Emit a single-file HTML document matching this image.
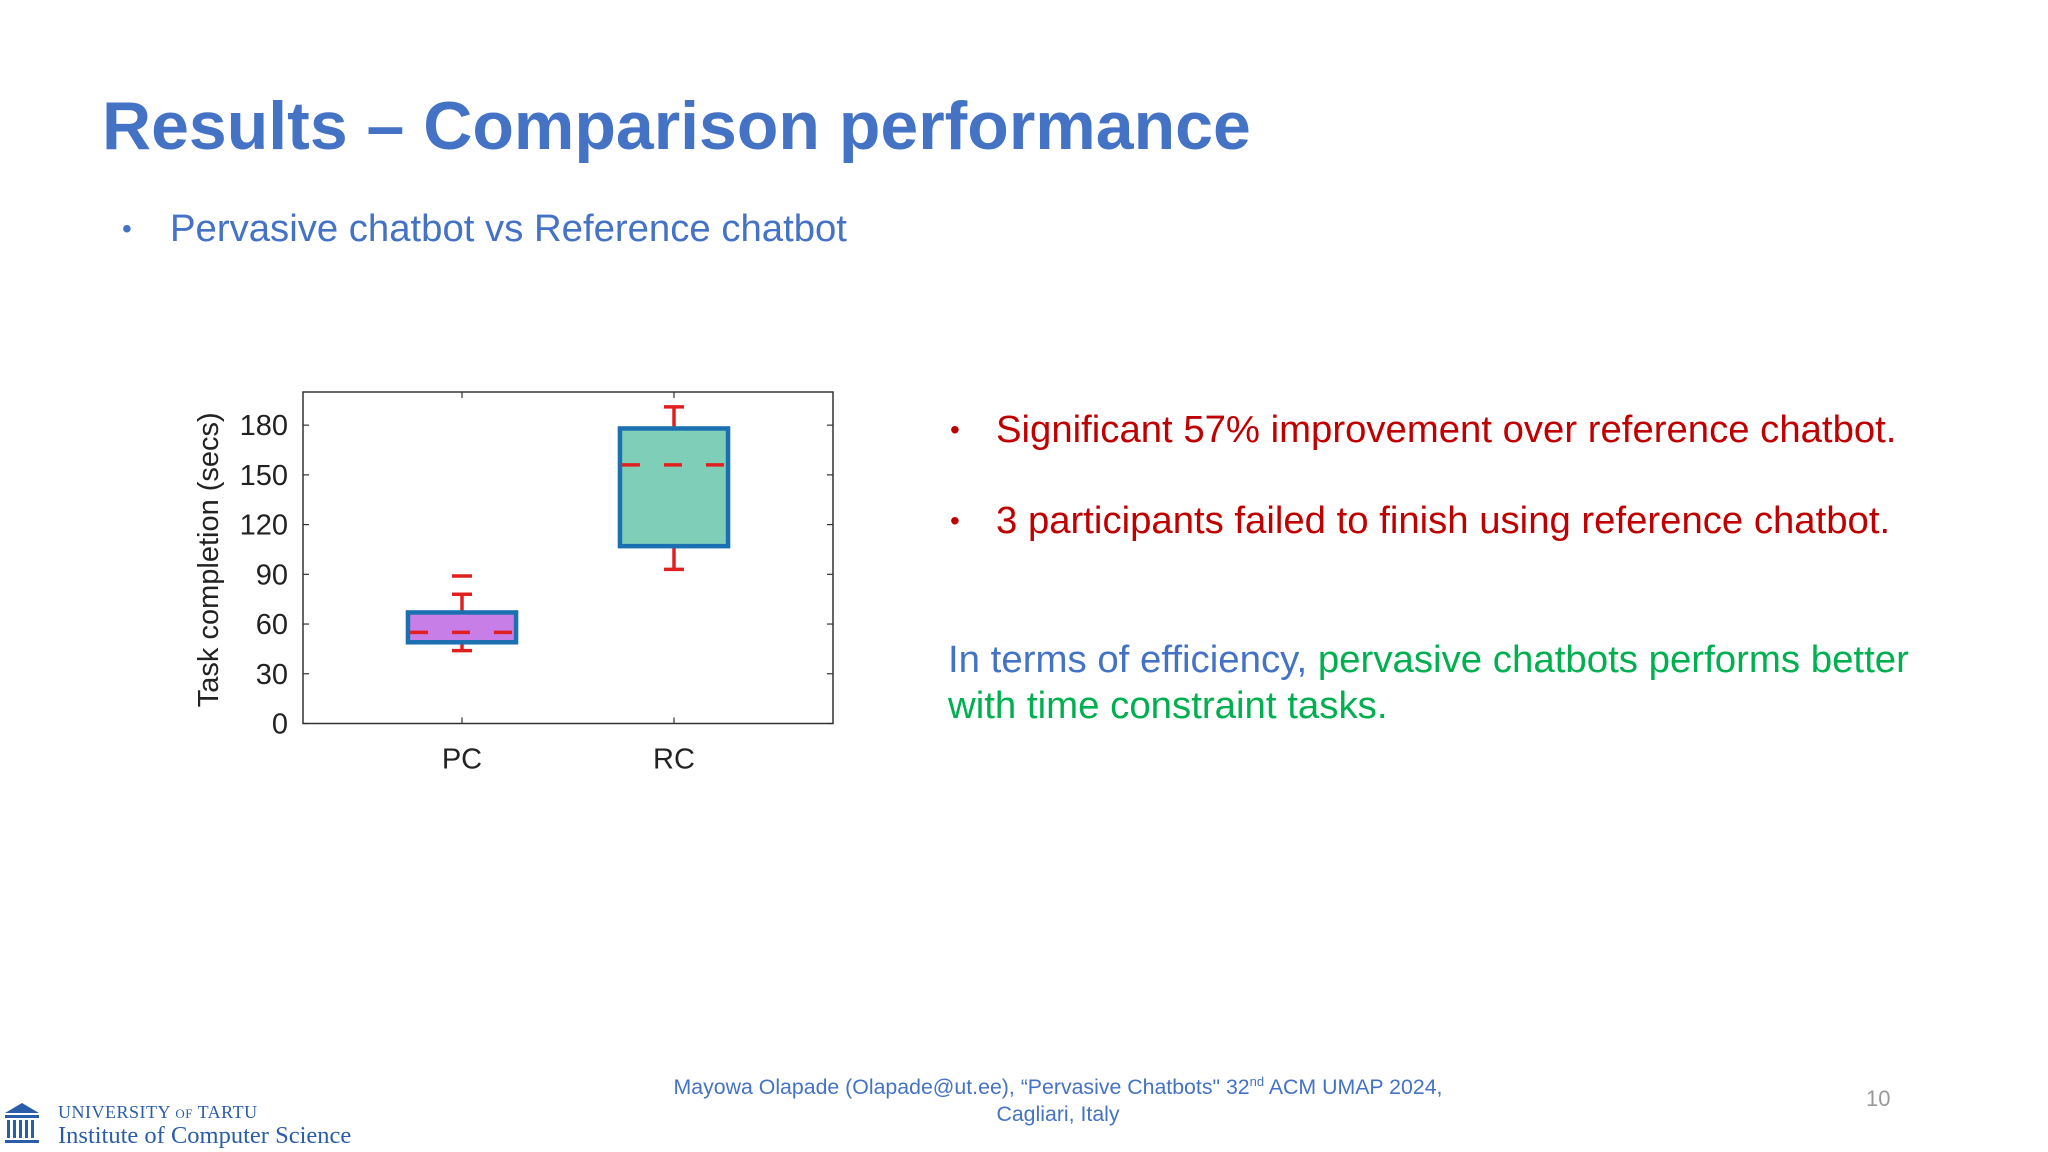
<!DOCTYPE html>
<html><head><meta charset="utf-8"><style>
body{margin:0;width:2048px;height:1152px;background:#fff;position:relative;overflow:hidden;font-family:"Liberation Sans",sans-serif}
.a{position:absolute;white-space:nowrap}
</style></head><body>
<div class="a" style="left:102px;top:87px;font-size:68px;font-weight:bold;color:#4472c4">Results – Comparison performance</div>
<div class="a" style="left:122px;top:207px;font-size:38.3px;color:#4472c4"><span style="display:inline-block;width:48px;font-size:28px;vertical-align:3px">•</span>Pervasive chatbot vs Reference chatbot</div>
<div class="a" style="left:950px;top:408px;font-size:38.3px;color:#c00000"><span style="display:inline-block;width:46px;font-size:28px;vertical-align:3px">•</span>Significant 57% improvement over reference chatbot.</div>
<div class="a" style="left:950px;top:499px;font-size:38.3px;color:#c00000"><span style="display:inline-block;width:46px;font-size:28px;vertical-align:3px">•</span>3 participants failed to finish using reference chatbot.</div>
<div class="a" style="left:948px;top:637px;font-size:38.4px;line-height:46px;color:#00b050"><span style="color:#4472c4">In terms of efficiency, </span>pervasive chatbots performs better<br>with time constraint tasks.</div>
<div class="a" style="left:858px;width:400px;top:1068px;font-size:21.3px;line-height:27px;color:#4472c4;text-align:center;white-space:normal"><span style="white-space:nowrap;margin-left:-220px;margin-right:-220px;display:block">Mayowa Olapade (Olapade@ut.ee), “Pervasive Chatbots" 32<sup style="font-size:13px">nd</sup> ACM UMAP 2024,</span>Cagliari, Italy</div>
<div class="a" style="left:1866px;top:1086px;font-size:22px;color:#999">10</div>
<svg class="a" style="left:5px;top:1103px" width="34" height="42" viewBox="0 0 34 42"><polygon points="17,0 34,10 0,10" fill="#2a5da8"/><rect x="0" y="12" width="34" height="3" fill="#2a5da8"/><g fill="#2a5da8"><rect x="2" y="17" width="3" height="18"/><rect x="8" y="17" width="3" height="18"/><rect x="14" y="17" width="3" height="18"/><rect x="20" y="17" width="3" height="18"/><rect x="26" y="17" width="3" height="18"/><rect x="0" y="37" width="34" height="3"/></g></svg>
<div class="a" style="left:58px;top:1102px;font-family:'Liberation Serif',serif;font-size:18px;color:#2a5da8;letter-spacing:0.5px">UNIVERSITY <span style="font-size:13px">OF</span> TARTU</div>
<div class="a" style="left:58px;top:1122px;font-family:'Liberation Serif',serif;font-size:24.5px;color:#2a5da8">Institute of Computer Science</div>
<svg class="a" id="chart" style="left:0;top:0" width="900" height="900"></svg>
<script>
const categories=["PC","RC"];
const q1=[49,107];
const q3=[67,178];
const medians=[55,156];
const whiskerLow=[44,93];
const whiskerHigh=[78,191];
const outliers=[[89],[]];
const yTicks=[0,30,60,90,120,150,180];
const fills=["#c77ee6","#7fcfb8"];
const L=303,R=833,T=392,B=723.5,yMax=200,xMin=0.25,xMax=2.75;
const ys=v=>B-(v/yMax)*(B-T);
const xs=i=>L+((i+1-xMin)/(xMax-xMin))*(R-L);
const svg=document.getElementById('chart');const NS="http://www.w3.org/2000/svg";
function mk(t,a,p){const e=document.createElementNS(NS,t);for(const k in a)e.setAttribute(k,a[k]);(p||svg).appendChild(e);return e;}
const frame=mk('rect',{x:L,y:T,width:R-L,height:B-T,fill:'none',stroke:'#333','stroke-width':1.5});


yTicks.forEach(v=>{const y=ys(v);
mk('line',{x1:L,x2:L+6,y1:y,y2:y,stroke:'#333','stroke-width':1.2});
mk('line',{x1:R,x2:R-6,y1:y,y2:y,stroke:'#333','stroke-width':1.2});
const t=mk('text',{x:L-15,y:y+10,'text-anchor':'end','font-size':29,fill:'#222','font-family':'Liberation Sans'});t.textContent=v;

});
const yl=mk('text',{x:0,y:0,transform:`translate(218,${(T+B)/2+2}) rotate(-90)`,'text-anchor':'middle','font-size':29,fill:'#222','font-family':'Liberation Sans'});yl.textContent='Task completion (secs)';


categories.forEach((c,i)=>{const x=xs(i),hw=0.255*(R-L)/(xMax-xMin);
mk('line',{x1:x,x2:x,y1:B,y2:B-6,stroke:'#333','stroke-width':1.2});
mk('line',{x1:x,x2:x,y1:T,y2:T+6,stroke:'#333','stroke-width':1.2});
const xl=mk('text',{x:x,y:B+45,'text-anchor':'middle','font-size':29,fill:'#222','font-family':'Liberation Sans'});xl.textContent=c;


const g=mk('g',{});


const cap=10;
mk('line',{x1:x,x2:x,y1:ys(q3[i]),y2:ys(whiskerHigh[i]),stroke:'#e02020','stroke-width':3.5},g);
mk('line',{x1:x,x2:x,y1:ys(q1[i]),y2:ys(whiskerLow[i]),stroke:'#e02020','stroke-width':3.5},g);
mk('line',{x1:x-cap,x2:x+cap,y1:ys(whiskerHigh[i]),y2:ys(whiskerHigh[i]),stroke:'#e02020','stroke-width':3.5},g);
mk('line',{x1:x-cap,x2:x+cap,y1:ys(whiskerLow[i]),y2:ys(whiskerLow[i]),stroke:'#e02020','stroke-width':3.5},g);
mk('rect',{x:x-hw,y:ys(q3[i]),width:2*hw,height:ys(q1[i])-ys(q3[i]),fill:fills[i],stroke:'#1a70b0','stroke-width':4.5},g);
mk('line',{x1:x-hw,x2:x+hw,y1:ys(medians[i]),y2:ys(medians[i]),stroke:'#e02020','stroke-width':3.5,'stroke-dasharray':'18,24','stroke-dashoffset':-2},g);
outliers[i].forEach(o=>{mk('line',{x1:x-cap,x2:x+cap,y1:ys(o),y2:ys(o),stroke:'#e02020','stroke-width':3.5},g);});
});
</script>
</body></html>
